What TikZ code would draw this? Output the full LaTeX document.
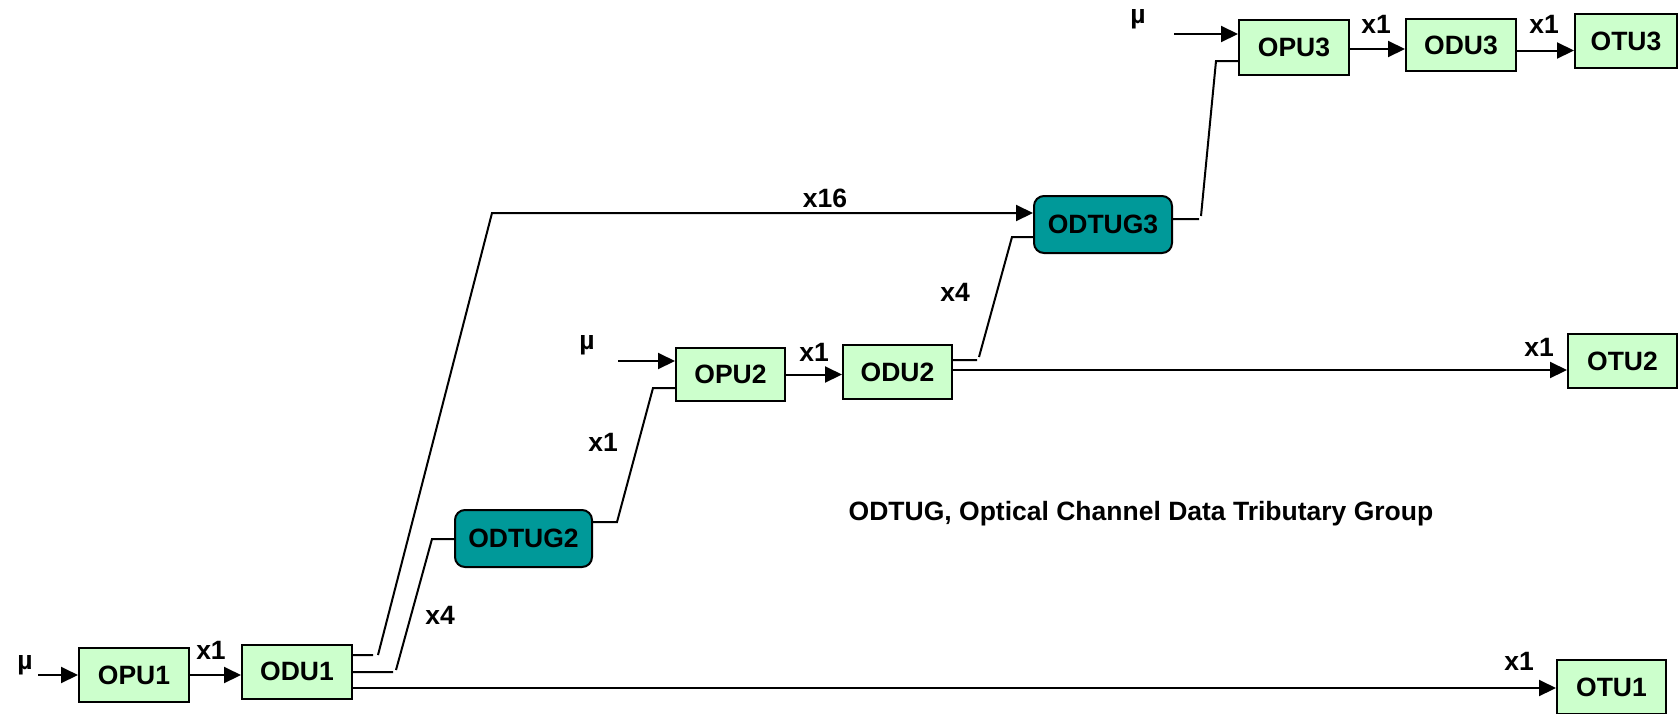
\documentclass[tikz,border=0pt]{standalone}
\usepackage{fontspec}
\setmainfont{Liberation Sans}
\usetikzlibrary{arrows.meta}
\definecolor{unitfill}{RGB}{204,255,204}
\definecolor{groupfill}{RGB}{0,153,153}
\begin{document}
\begin{tikzpicture}[x=1pt,y=-1pt,
  every node/.style={font=\fontsize{26.5}{30}\selectfont\bfseries},
  unit/.style={draw, fill=unitfill, line width=2pt, minimum width=110pt, minimum height=54pt, inner sep=0pt},
  grp/.style={draw, fill=groupfill, line width=2pt, rounded corners=10pt, minimum width=138pt, minimum height=57pt, inner sep=0pt},
  tag/.style={inner sep=0pt},
  link/.style={line width=2pt},
  arr/.style={link, -{Triangle[length=17pt,width=16pt]}},
]
\useasboundingbox (0,0) rectangle (1680,713);

% ---- units ----
\node[unit] (OPU1) at (134,675) {OPU1};
\node[unit] (ODU1) at (297,671.5) {ODU1};
\node[unit, minimum width=109pt] (OTU1) at (1611.5,687) {OTU1};
\node[grp, minimum width=137pt] (ODTUG2) at (523.5,538.5) {ODTUG2};
\node[unit, minimum width=109pt, minimum height=53pt] (OPU2) at (730.5,374.5) {OPU2};
\node[unit, minimum width=109pt] (ODU2) at (897.5,372) {ODU2};
\node[unit, minimum width=109pt] (OTU2) at (1622.5,361) {OTU2};
\node[grp] (ODTUG3) at (1103,224.5) {ODTUG3};
\node[unit, minimum height=55pt] (OPU3) at (1294,47.5) {OPU3};
\node[unit, minimum height=52pt] (ODU3) at (1461,45) {ODU3};
\node[unit, minimum width=102pt] (OTU3) at (1626,41) {OTU3};

% ---- inputs ----
\node[tag] (mu1) at (25,665) {µ};
\node[tag] (mu2) at (587,345) {µ};
\node[tag] (mu3) at (1138,19) {µ};
\coordinate (in1) at (38,675);
\coordinate (in2) at (618,361);
\coordinate (in3) at (1174,34);

% ---- multiplicity labels ----
\node[tag] (m1) at (211,650) {x1};
\node[tag] (m2) at (440,615) {x4};
\node[tag] (m3) at (603,442) {x1};
\node[tag] (m4) at (814,352) {x1};
\node[tag] (m5) at (825,198) {x16};
\node[tag] (m6) at (955,292) {x4};
\node[tag] (m7) at (1376,24) {x1};
\node[tag] (m8) at (1544,24) {x1};
\node[tag] (m9) at (1539,347) {x1};
\node[tag] (m10) at (1519,661) {x1};

\node[tag] (caption) at (1141,514) {ODTUG, Optical Channel Data Tributary Group};

% ---- bend points ----
\coordinate (a1) at (373,655);
\coordinate (a2) at (378,655);
\coordinate (a3) at (492,213);
\coordinate (b1) at (393,672);
\coordinate (b2) at (396,670);
\coordinate (b3) at (432,539);
\coordinate (c1) at (617,522);
\coordinate (c2) at (653,388);
\coordinate (d1) at (977,360);
\coordinate (d2) at (979,357);
\coordinate (d3) at (1012,237);
\coordinate (e1) at (1199,219);
\coordinate (e2) at (1201,216);
\coordinate (e3) at (1216,61);

% ---- connectors ----
\draw[arr] (in1) -- (in1 -| OPU1.west);
\draw[arr] (OPU1.east) -- (OPU1.east -| ODU1.west);
\draw[arr] (a1 -| ODU1.east) -- (a1) (a2) -- (a3) -- (a3 -| ODTUG3.west);
\draw[link] (b1 -| ODU1.east) -- (b1) (b2) -- (b3) -- (b3 -| ODTUG2.west);
\draw[arr] (ODU1.east |- 0,688) -- (OTU1.west |- 0,688);
\draw[link] (c1 -| ODTUG2.east) -- (c1) -- (c2) -- (c2 -| OPU2.west);
\draw[arr] (in2) -- (in2 -| OPU2.west);
\draw[arr] (OPU2.east) -- (OPU2.east -| ODU2.west);
\draw[link] (d1 -| ODU2.east) -- (d1) (d2) -- (d3) -- (d3 -| ODTUG3.west);
\draw[arr] (ODU2.east |- 0,370) -- (OTU2.west |- 0,370);
\draw[link] (e1 -| ODTUG3.east) -- (e1) (e2) -- (e3) -- (e3 -| OPU3.west);
\draw[arr] (in3) -- (in3 -| OPU3.west);
\draw[arr] (OPU3.east |- 0,49) -- (ODU3.west |- 0,49);
\draw[arr] (ODU3.east |- 0,50.5) -- (OTU3.west |- 0,50.5);
\end{tikzpicture}
\end{document}
